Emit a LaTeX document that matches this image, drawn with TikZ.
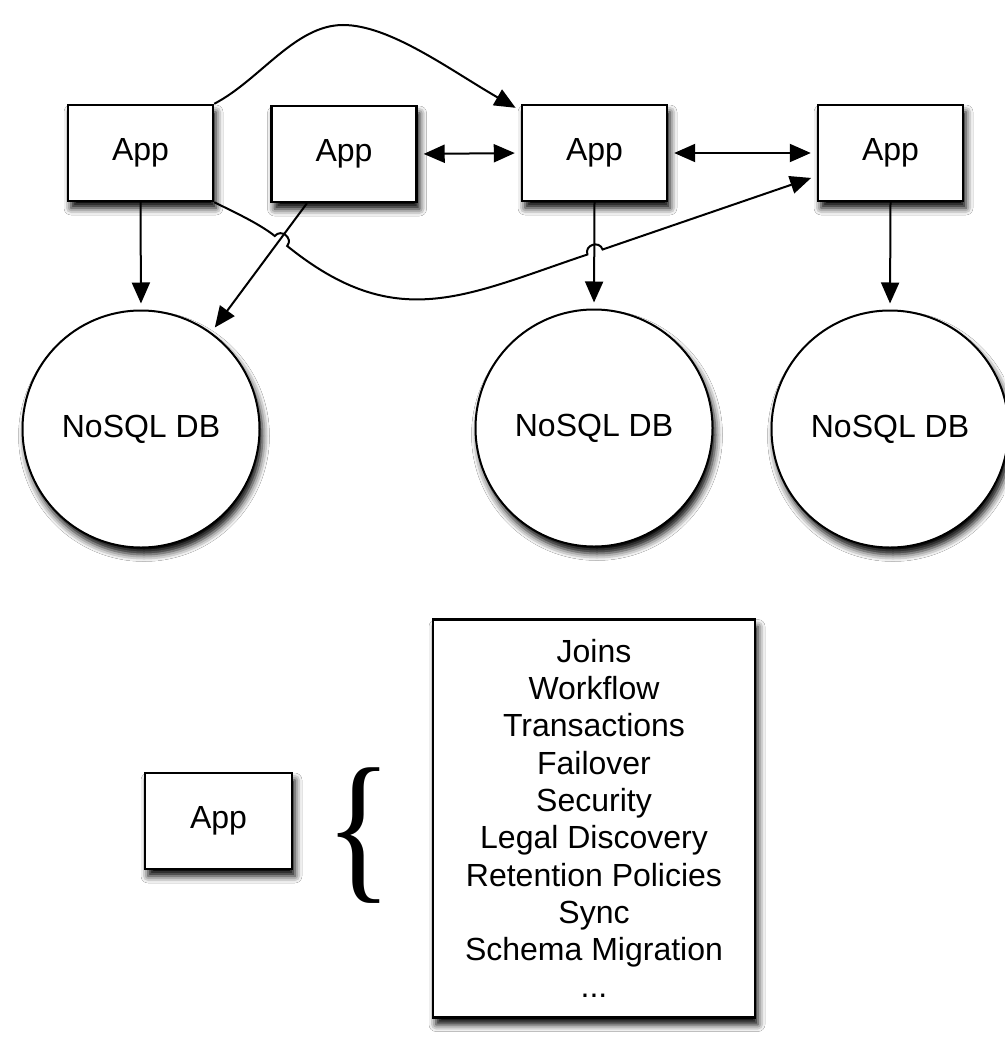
\documentclass[tikz,border=0pt]{standalone}
\usepackage{fontspec}
\usepackage{graphicx}
\setmainfont{Liberation Sans}
\newfontfamily\bracefont{Liberation Serif}
\usetikzlibrary{arrows.meta,shadows.blur}

\begin{document}
\begin{tikzpicture}[x=1pt,y=-1pt,
  >={Triangle[length=21pt,width=18pt]},
  every node/.style={font=\fontsize{32}{37.3}\selectfont},
  softshadow/.style={blur shadow={shadow xshift=3pt,shadow yshift=-7pt,
      shadow blur radius=7pt,shadow opacity=100}},
  appbox/.style={draw,line width=2.4pt,fill=white,minimum width=145pt,
      minimum height=96pt,inner sep=0pt,softshadow},
  dbnode/.style={draw,circle,line width=2pt,fill=white,minimum size=237pt,
      inner sep=0pt,softshadow},
  conn/.style={line width=2pt,->,shorten >=6pt},
  biconn/.style={line width=2pt,<->,shorten >=6pt,shorten <=6pt},
]
\useasboundingbox[fill=white] (0,0) rectangle (1004,1052);

% application servers
\node[appbox] (app1) at (140.5,153) {App};
\node[appbox] (app2) at (344,154) {App};
\node[appbox] (app3) at (594.5,153) {App};
\node[appbox] (app4) at (890.5,153) {App};

% databases
\node[dbnode] (db1) at (141,429) {NoSQL DB};
\node[dbnode] (db2) at (594,428) {NoSQL DB};
\node[dbnode] (db3) at (890,429) {NoSQL DB};

% straight connectors
\draw[conn] (app1.south) -- (db1.north);
\draw[conn] (app3.south) -- (db2.north);
\draw[conn] (app4.south) -- (db3.north);
\draw[conn] ([xshift=-37pt]app2.south) -- (db1.54);
\draw[biconn] (app2.east) -- (app3.west);
\draw[biconn] (app3.east) -- (app4.west);

% arc over the top from the first app to the third
\draw[conn] (app1.north east)
  .. controls (260,80) and (295,25) .. (343,25)
  .. controls (390,25) and (450,70) .. ([yshift=-7pt]app3.north west);

% long sweep from the first app to the fourth, hopping over two lines
\draw[conn] (app1.south east)
  .. controls (232,211) and (259,223.4) .. (274.8,236)
  .. controls (281.1,228.2) and (293.5,238.2) .. (287.2,246)
  .. controls (396.4,334.2) and (464.2,295.8) .. (587.4,254.5)
  .. controls (584.2,245) and (599.4,240) .. (602.6,249.5)
  -- ([yshift=-23pt]app4.west);

% single app with its list of concerns
\node[appbox,minimum width=147pt] (solo) at (218.5,821) {App};
\node[inner sep=0pt,font=\bracefont\fontsize{164}{164}\selectfont]
  (brace) at (359,836) {\scalebox{0.85}[1]{\{}};
\node[appbox,minimum width=322pt,minimum height=398pt,align=center]
  (list) at (594,818.5)
  {Joins\\Workflow\\Transactions\\Failover\\Security\\Legal Discovery\\%
   Retention Policies\\Sync\\Schema Migration\\...};
\end{tikzpicture}
\end{document}
